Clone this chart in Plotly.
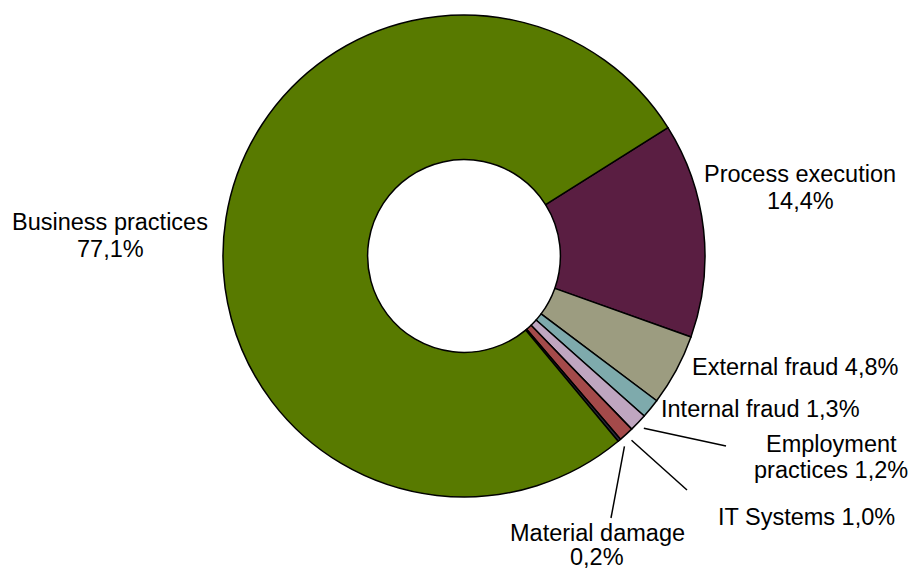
import math
import plotly.graph_objects as go

# ---- data ----
categories = ["Process execution", "External fraud", "Internal fraud",
              "Employment practices", "IT Systems", "Material damage",
              "Business practices"]
shares = [14.4, 4.8, 1.3, 1.2, 1.0, 0.2, 77.1]
label_lines = [["Process execution", "14,4%"],
               ["External fraud 4,8%"],
               ["Internal fraud 1,3%"],
               ["Employment", "practices 1,2%"],
               ["IT Systems 1,0%"],
               ["Material damage", "0,2%"],
               ["Business practices", "77,1%"]]

colors = ["#5a1e42", "#9c9c80", "#7eaaac", "#bfa6c0", "#a44a4a", "#2a2a3c", "#587a00"]

# ---- layout in pixels ----
W, H = 912, 572
CX, CY, R = 464, 256, 241
HOLE = 0.40
ROTATION = 57.8
FONT = dict(family="Liberation Sans, Arial, sans-serif", size=23.5, color="black")

# label placement (center x, first baseline y, line gap) and leader line ends
label_pos = [(800, 183, 26.5), (795, 375, 0), (760, 417, 0), (831, 452, 26.5),
             (806, 525, 0), (597, 541, 24.0), (110, 231, 26.5)]
leader_end = [None, None, None, (726, 446), (687, 490), (611, 518), None]


def px(x):
    return x / W


def py(y):
    return 1 - y / H


fig = go.Figure(go.Pie(
    labels=categories, values=shares, sort=False, direction="clockwise",
    rotation=ROTATION, hole=HOLE, textinfo="none", hoverinfo="label+percent",
    marker=dict(colors=colors, line=dict(color="black", width=1.5)),
    domain=dict(x=[px(CX - R), px(CX + R)], y=[py(CY + R), py(CY - R)]),
    showlegend=False,
))

annotations = []
shapes = []
total = sum(shares)
cum = 0.0
for i, v in enumerate(shares):
    mid = ROTATION + (cum + v / 2) / total * 360
    cum += v
    lx, ly, gap = label_pos[i]
    for k, line in enumerate(label_lines[i]):
        base = ly + k * gap
        annotations.append(dict(
            x=px(lx), y=py(base - 8.5), xref="paper", yref="paper",
            text=line, showarrow=False, font=FONT,
            xanchor="center", yanchor="middle",
        ))
    if leader_end[i] is not None:
        a = math.radians(mid)
        r0 = R + 8
        sx, sy = CX + r0 * math.sin(a), CY - r0 * math.cos(a)
        ex, ey = leader_end[i]
        shapes.append(dict(type="line", xref="paper", yref="paper",
                           x0=px(sx), y0=py(sy), x1=px(ex), y1=py(ey),
                           line=dict(color="black", width=1.5)))

fig.update_layout(
    width=W, height=H, margin=dict(l=0, r=0, t=0, b=0),
    paper_bgcolor="white", plot_bgcolor="white",
    annotations=annotations, shapes=shapes,
)

fig.write_html(
    "out.html",
    config={"displayModeBar": False},
    post_script="document.body.style.margin='0';document.body.style.overflow='hidden';",
)
